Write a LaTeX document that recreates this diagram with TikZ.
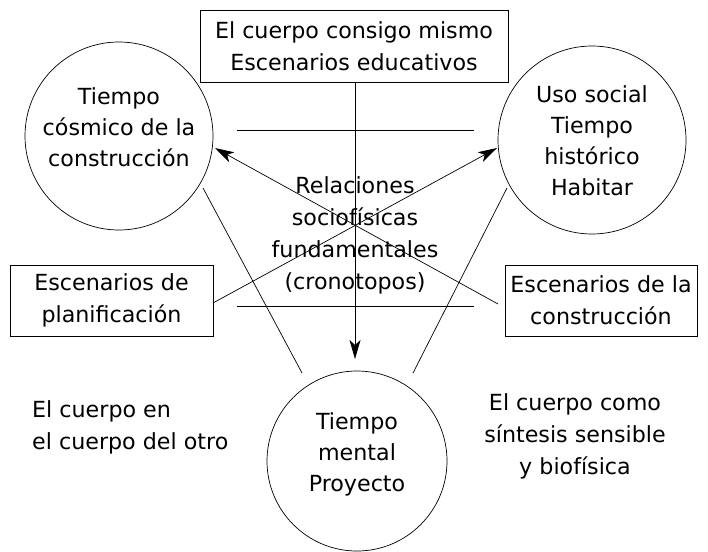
\documentclass[tikz,border=0pt]{standalone}
\usepackage{fontspec}
\setmainfont{DejaVu Sans}
\usetikzlibrary{arrows.meta}
\begin{document}
\begin{tikzpicture}[x=1pt,y=-1pt,
  txt/.style={font=\fontsize{22.2}{32}\selectfont, align=center, inner sep=0pt},
  ctxt/.style={font=\fontsize{22.2}{31}\selectfont, align=center, inner sep=0pt},
  boxn/.style={draw, line width=0.7pt, txt, minimum height=72pt},
  circn/.style={draw, circle, line width=0.7pt, inner sep=0pt},
  ln/.style={line width=0.7pt},
  arr/.style={line width=0.7pt, -{Stealth[length=19pt,width=11pt,inset=5pt]}}]
\useasboundingbox (0,0) rectangle (708,551);
\node[boxn, minimum width=308pt] (top) at (354,46) {El cuerpo consigo mismo\\Escenarios educativos};
\node[circn, minimum size=188pt] (lc) at (119,136) {};
\node[ctxt] (lct) at (119,127) {Tiempo\\cósmico de la\\construcción};
\node[circn, minimum size=188pt] (rc) at (592,140) {};
\node[ctxt] (rct) at (592,141) {Uso social\\Tiempo\\histórico\\Habitar};
\node[circn, minimum size=180pt] (bc) at (357,461) {};
\node[ctxt] (bct) at (357,454) {Tiempo\\mental\\Proyecto};
\node[boxn, minimum width=203pt, minimum height=71pt] (lb) at (111.5,300.5) {Escenarios de\\planificación};
\node[boxn, minimum width=192pt, minimum height=71pt] (rb) at (601,300.5) {Escenarios de la\\construcción};
\node[txt] (center) at (355,235) {Relaciones\\sociofísicas\\fundamentales\\(cronotopos)};
\node[txt, align=left, anchor=west] (lt) at (32,427) {El cuerpo en\\el cuerpo del otro};
\node[txt] (rt) at (575,436) {El cuerpo como\\síntesis sensible\\y biofísica};
\coordinate (h1a) at (237,130); \coordinate (h1b) at (474,130);
\coordinate (h2a) at (237,306); \coordinate (h2b) at (474,306);
\coordinate (vtip) at (355,359);
\coordinate (la) at (213,303); \coordinate (lt2) at (497,148);
\coordinate (ra) at (498,304); \coordinate (rt2) at (215,148);
\coordinate (l1a) at (203,188); \coordinate (l1b) at (302,373);
\coordinate (l2a) at (507,188); \coordinate (l2b) at (413,373);
\draw[ln] (h1a) -- (h1b);
\draw[ln] (h2a) -- (h2b);
\draw[arr] (top.south -| vtip) -- (vtip);
\draw[arr] (la) -- (lt2);
\draw[arr] (ra) -- (rt2);
\draw[ln] (l1a) -- (l1b);
\draw[ln] (l2a) -- (l2b);
\end{tikzpicture}
\end{document}
